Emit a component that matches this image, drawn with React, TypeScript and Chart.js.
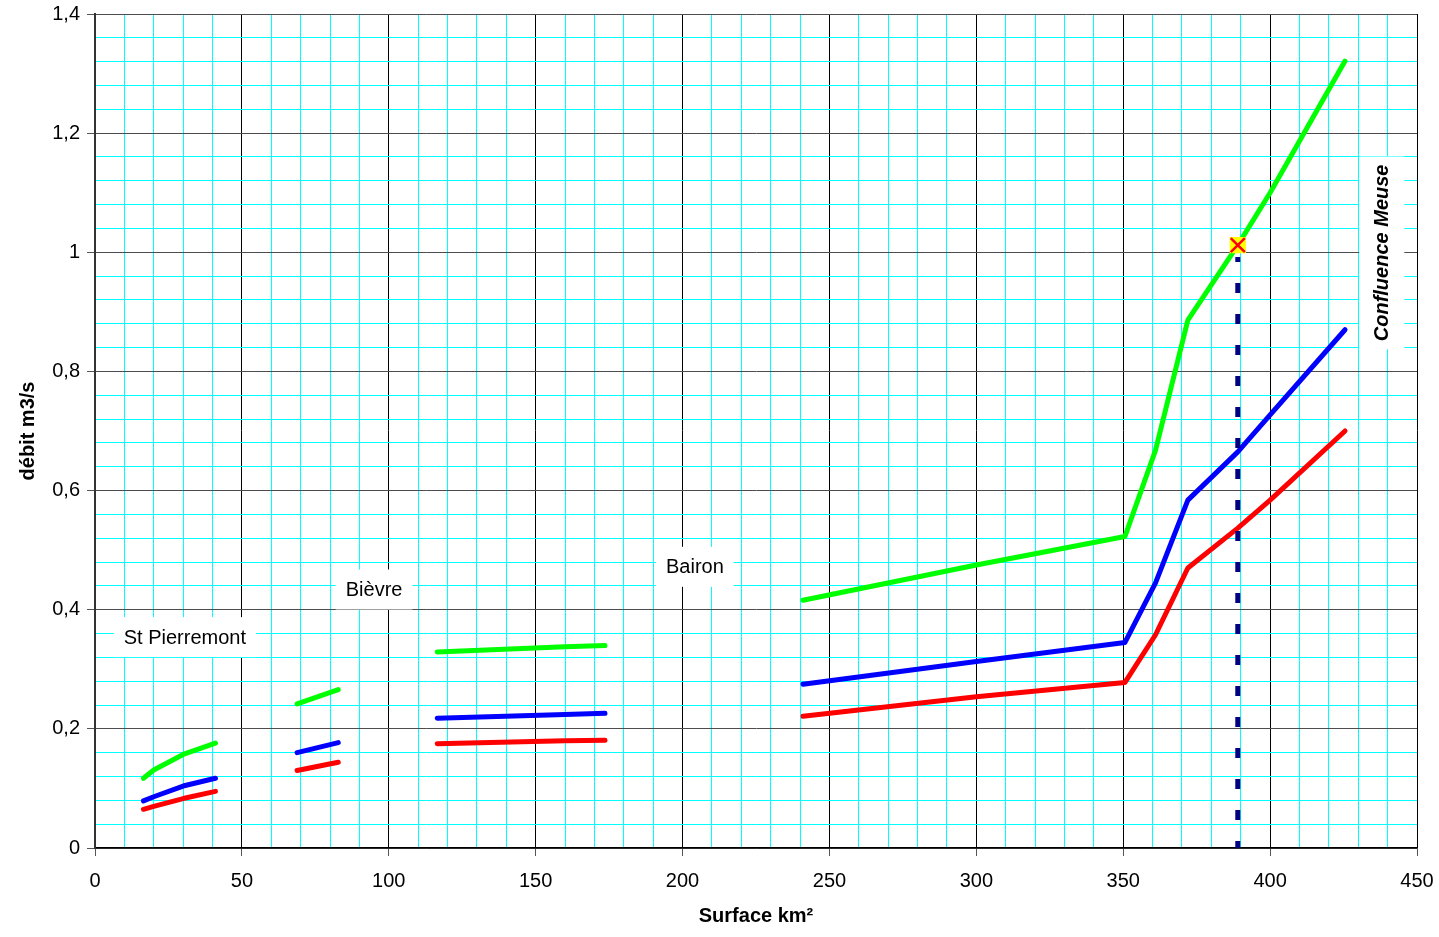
import React, { useEffect, useRef } from 'react';
import { Chart, registerables } from 'chart.js';

Chart.register(...registerables);

// Surface (km²) per reach
const stPierremontArea = [16.5, 20, 30, 41];
const bievreArea = [68.8, 82.8];
const midArea = [116.5, 160, 173.6];
const baironArea = [241, 300, 350.6, 361, 372, 389, 400, 425.5];

// green series (débit m3/s)
const stPierremontGreen = [0.117, 0.131, 0.157, 0.176];
const bievreGreen = [0.242, 0.266];
const midGreen = [0.329, 0.338, 0.340];
const baironGreen = [0.416, 0.475, 0.523, 0.668, 0.886, 1.012, 1.1, 1.321];

// blue series
const stPierremontBlue = [0.079, 0.086, 0.104, 0.117];
const bievreBlue = [0.160, 0.177];
const midBlue = [0.218, 0.224, 0.226];
const baironBlue = [0.275, 0.313, 0.345, 0.445, 0.584, 0.665, 0.727, 0.87];

// red series
const stPierremontRed = [0.065, 0.070, 0.083, 0.095];
const bievreRed = [0.130, 0.144];
const midRed = [0.175, 0.180, 0.181];
const baironRed = [0.221, 0.254, 0.278, 0.358, 0.470, 0.537, 0.584, 0.700];

// confluence marker
const markerArea = [389];
const markerFlow = [1.012];
const dropFlow = [0, 0.992];

// annotations
const labelTexts = ['St Pierremont', 'Bièvre', 'Bairon', 'Confluence Meuse'];
const labelAreas = [30.6, 95, 204.2, 438];
const labelFlows = [0.354, 0.434, 0.472, 0.999];

const xTitle = 'Surface km²';
const yTitle = 'débit m3/s';

function buildSeries(areas: number[][], flows: number[][]) {
  const out: { x: number; y: number | null }[] = [];
  areas.forEach((seg, i) => {
    seg.forEach((a, j) => out.push({ x: a, y: flows[i][j] }));
    if (i < areas.length - 1) out.push({ x: seg[seg.length - 1] + 1, y: null });
  });
  return out;
}

const FONT = '"Liberation Sans", Arial, sans-serif';

const labelPlugin = {
  id: 'areaLabels',
  beforeDatasetsDraw(chart: any) {
    const { ctx, scales } = chart;
    const xs = scales.x;
    const ys = scales.y;
    labelTexts.forEach((text, i) => {
      const rotated = i === 3;
      const px = xs.getPixelForValue(labelAreas[i]);
      const py = ys.getPixelForValue(labelFlows[i]);
      ctx.save();
      ctx.font = rotated ? `italic bold 20px ${FONT}` : `20px ${FONT}`;
      const w = ctx.measureText(text).width;
      ctx.translate(px, py);
      if (rotated) ctx.rotate(-Math.PI / 2);
      const padX = rotated ? 8 : 10;
      const h = rotated ? 45 : 40;
      ctx.fillStyle = '#ffffff';
      ctx.fillRect(-w / 2 - padX, -h / 2, w + 2 * padX, h);
      ctx.fillStyle = '#000000';
      ctx.textAlign = 'center';
      ctx.textBaseline = 'middle';
      ctx.fillText(text, 0, 1);
      ctx.restore();
    });
  },
};

const isMult = (v: number, step: number) => Math.abs(v / step - Math.round(v / step)) < 1e-6;

export default function App() {
  const ref = useRef<HTMLCanvasElement | null>(null);

  useEffect(() => {
    if (!ref.current) return;
    const areas = [stPierremontArea, bievreArea, midArea, baironArea];
    const chart = new Chart(ref.current, {
      type: 'line',
      data: {
        datasets: [
          {
            label: 'marker-x',
            data: markerArea.map((a, i) => ({ x: a, y: markerFlow[i] })),
            showLine: false,
            pointStyle: 'crossRot',
            pointRadius: 10,
            pointBorderColor: '#ff0000',
            pointBorderWidth: 2.5,
            order: 0,
          },
          {
            label: 'marker-bg',
            data: markerArea.map((a, i) => ({ x: a, y: markerFlow[i] })),
            showLine: false,
            pointStyle: 'rect',
            pointRadius: 11.5,
            pointBackgroundColor: '#ffff00',
            pointBorderWidth: 0,
            pointBorderColor: '#ffff00',
            order: 1,
          },
          {
            label: 'drop',
            data: dropFlow.map((f) => ({ x: markerArea[0], y: f })),
            borderColor: '#000080',
            borderWidth: 5,
            borderDash: [10, 21],
            borderDashOffset: 3,
            borderCapStyle: 'butt',
            pointRadius: 0,
            order: 2,
          },
          {
            label: 'green',
            data: buildSeries(areas, [stPierremontGreen, bievreGreen, midGreen, baironGreen]),
            borderColor: '#00ff00',
            borderWidth: 5,
            borderCapStyle: 'round',
            borderJoinStyle: 'round',
            pointRadius: 0,
            spanGaps: false,
            order: 3,
          },
          {
            label: 'blue',
            data: buildSeries(areas, [stPierremontBlue, bievreBlue, midBlue, baironBlue]),
            borderColor: '#0000ff',
            borderWidth: 5,
            borderCapStyle: 'round',
            borderJoinStyle: 'round',
            pointRadius: 0,
            spanGaps: false,
            order: 4,
          },
          {
            label: 'red',
            data: buildSeries(areas, [stPierremontRed, bievreRed, midRed, baironRed]),
            borderColor: '#ff0000',
            borderWidth: 5,
            borderCapStyle: 'round',
            borderJoinStyle: 'round',
            pointRadius: 0,
            spanGaps: false,
            order: 5,
          },
        ],
      },
      options: {
        animation: false,
        responsive: true,
        maintainAspectRatio: false,
        layout: { padding: { top: 14, right: 22, left: 0, bottom: 0 } },
        plugins: { legend: { display: false }, tooltip: { enabled: false } },
        scales: {
          x: {
            type: 'linear',
            min: 0,
            max: 450,
            afterFit: (s: any) => {
              s.height = 89;
              s.paddingLeft = 0;
              s.paddingRight = 0;
            },
            border: { display: true, color: '#000000', width: 1.5 },
            grid: {
              color: (c: any) => (isMult(c.tick.value, 50) ? '#000000' : '#00ffff'),
              tickColor: (c: any) => (isMult(c.tick.value, 50) ? '#555555' : 'rgba(0,0,0,0)'),
              tickLength: 8,
              lineWidth: 1,
            },
            ticks: {
              stepSize: 10,
              autoSkip: false,
              maxRotation: 0,
              padding: 13,
              color: '#000000',
              font: { family: FONT, size: 20 },
              callback: (v: any) => (isMult(Number(v), 50) ? String(Math.round(Number(v))) : ''),
            },
            title: {
              display: true,
              text: xTitle,
              color: '#000000',
              font: { family: FONT, size: 20, weight: 'bold' },
              padding: { top: 0, bottom: 9 },
            },
          },
          y: {
            type: 'linear',
            min: 0,
            max: 1.4,
            afterFit: (s: any) => {
              s.width = 95;
              s.paddingTop = 0;
              s.paddingBottom = 0;
            },
            border: { display: true, color: '#333333', width: 2 },
            grid: {
              color: (c: any) => (isMult(c.tick.value, 0.2) ? '#4d4d4d' : '#00ffff'),
              tickColor: (c: any) => (isMult(c.tick.value, 0.2) ? '#555555' : 'rgba(0,0,0,0)'),
              tickLength: 8,
              lineWidth: 1,
            },
            ticks: {
              stepSize: 0.04,
              autoSkip: false,
              padding: 7,
              color: '#000000',
              font: { family: FONT, size: 20 },
              callback: (v: any) => {
                const n = Number(v);
                if (!isMult(n, 0.2)) return '';
                return String(Math.round(n * 10) / 10).replace('.', ',');
              },
            },
            title: {
              display: true,
              text: yTitle,
              color: '#000000',
              font: { family: FONT, size: 20, weight: 'bold' },
              padding: { top: 16, bottom: 0 },
            },
          },
        },
      } as any,
      plugins: [labelPlugin],
    });
    return () => chart.destroy();
  }, []);

  return (
    <div style={{ position: 'absolute', left: 0, top: 0, width: 1439, height: 937, background: '#ffffff' }}>
      <canvas ref={ref} />
    </div>
  );
}
